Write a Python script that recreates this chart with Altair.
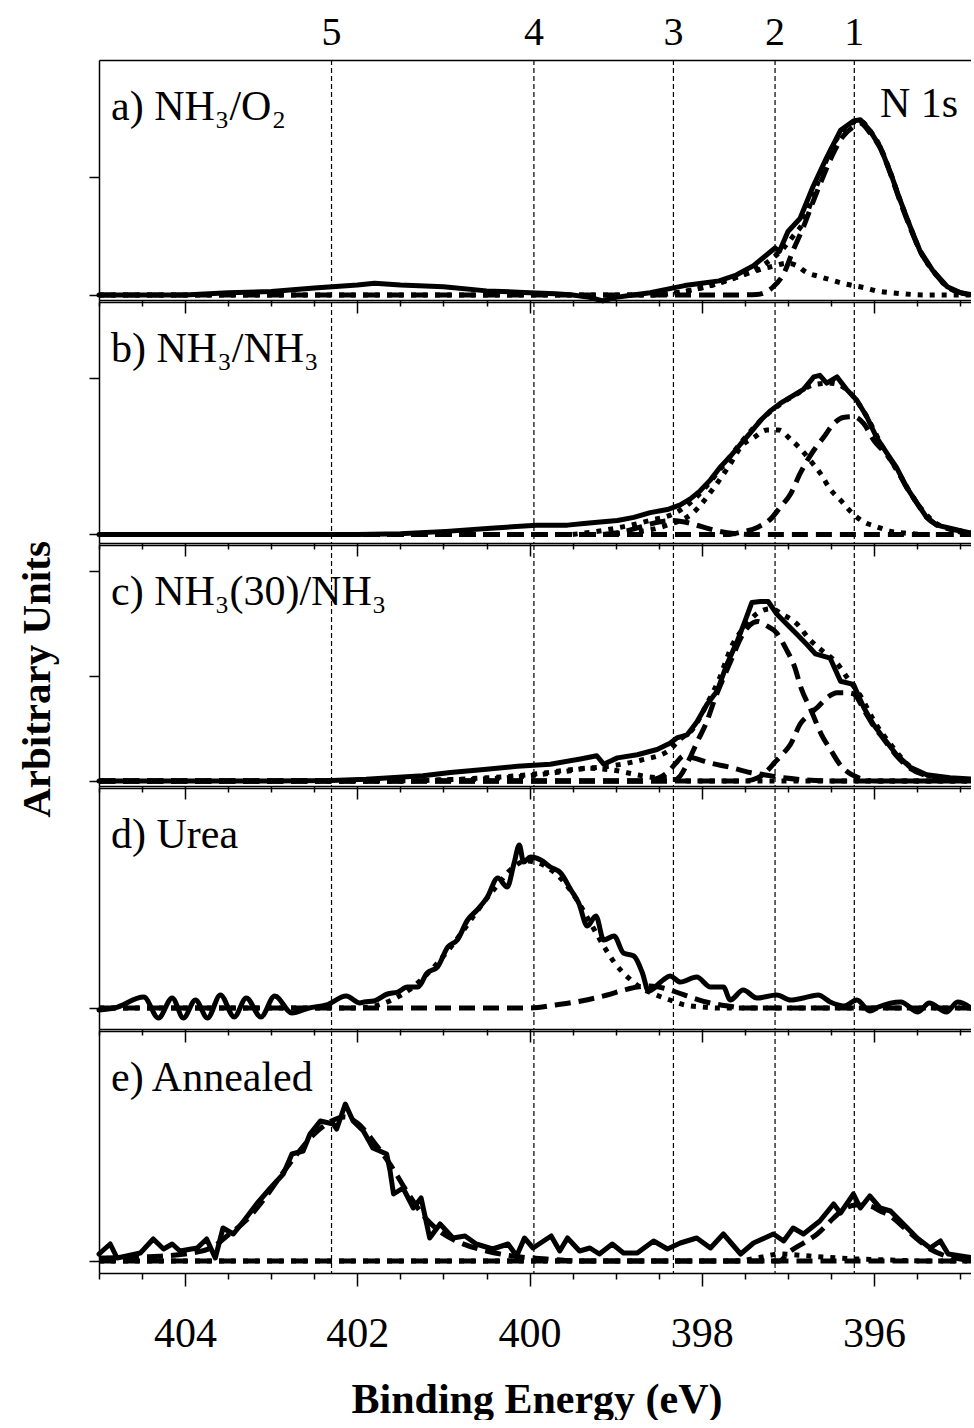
import altair as alt
import pandas as pd

FONT = "Liberation Serif"

# ---------------- axis / annotation values ----------------
X_MIN, X_MAX = 394.84, 405.0
X_TICKS = [405.0, 404.5, 404.0, 403.5, 403.0, 402.5, 402.0, 401.5, 401.0, 400.5, 400.0,
           399.5, 399.0, 398.5, 398.0, 397.5, 397.0, 396.5, 396.0, 395.5, 395.0]
PEAK_POS = [402.3, 399.95, 398.33, 397.15, 396.23]
PEAK_LABELS = ["5", "4", "3", "2", "1"]
PANEL_LABELS = ["a) NH\u2083/O\u2082", "b) NH\u2083/NH\u2083", "c) NH\u2083(30)/NH\u2083",
                "d) Urea", "e) Annealed"]

# ---------------- panel a) NH3/O2 ----------------
A_SOLID_E = [405.0, 404.5, 404.0, 403.5, 403.0, 402.5, 402.0, 401.8, 401.5, 401.0, 400.5, 400.0,
             399.7, 399.5, 399.3, 399.15, 399.0, 398.8, 398.6, 398.4, 398.2, 398.0, 397.8, 397.6,
             397.4, 397.2, 397.15, 397.1, 397.0, 396.86, 396.71, 396.55, 396.39, 396.24, 396.16,
             396.05, 395.93, 395.81, 395.7, 395.58, 395.47, 395.32, 395.15, 395.0, 394.84]
A_SOLID_I = [0, 0, 0, 0.02, 0.03, 0.06, 0.085, 0.10, 0.085, 0.07, 0.035, 0.02,
             0.01, 0, -0.02, -0.05, -0.02, 0, 0.02, 0.05, 0.08, 0.10, 0.12, 0.17,
             0.25, 0.37, 0.40, 0.37, 0.54, 0.65, 0.92, 1.17, 1.40, 1.48, 1.49,
             1.40, 1.26, 1.04, 0.81, 0.58, 0.38, 0.21, 0.07, 0.02, 0]
A_DASH_E = [405.0, 397.6, 397.36, 397.17, 397.05, 396.94, 396.82, 396.70, 396.59, 396.47, 396.36,
            396.24, 396.16, 396.05, 395.93, 395.81, 395.70, 395.58, 395.47, 395.32, 395.15, 395.0, 394.84]
A_DASH_I = [0, 0, 0.005, 0.07, 0.18, 0.38, 0.58, 0.81, 1.01, 1.21, 1.35,
            1.43, 1.46, 1.38, 1.25, 1.03, 0.80, 0.57, 0.38, 0.21, 0.07, 0.02, 0]
A_DOT_E = [405.0, 398.6, 398.2, 397.9, 397.6, 397.4, 397.2, 397.0, 396.9, 396.78, 396.65, 396.51,
           396.37, 396.24, 396.1, 395.97, 395.81, 395.66, 395.4, 394.84]
A_DOT_I = [0, 0, 0.03, 0.08, 0.15, 0.20, 0.24, 0.27, 0.25, 0.19, 0.16, 0.13,
           0.10, 0.08, 0.06, 0.035, 0.02, 0.01, 0, 0]
A_ENV_E = [398.6, 398.2, 397.9, 397.6, 397.4, 397.2, 397.05, 396.94, 396.82, 396.7, 396.59, 396.47,
           396.36, 396.24, 396.16, 396.05, 395.93, 395.81, 395.7, 395.58, 395.47, 395.32, 395.15,
           395.0, 394.84]
A_ENV_I = [0, 0.03, 0.08, 0.15, 0.21, 0.30, 0.40, 0.50, 0.62, 0.86, 1.08, 1.28,
           1.40, 1.47, 1.48, 1.40, 1.26, 1.04, 0.81, 0.58, 0.38, 0.21, 0.07, 0.02, 0]

# ---------------- panel b) NH3/NH3 ----------------
B_SOLID_E = [405.0, 404.0, 403.0, 402.0, 401.5, 400.97, 400.45, 399.92, 399.76, 399.56, 399.37,
             399.18, 398.98, 398.79, 398.60, 398.40, 398.25, 398.13, 398.02, 397.90, 397.79, 397.67,
             397.55, 397.44, 397.32, 397.21, 397.09, 396.97, 396.82, 396.70, 396.63, 396.55, 396.43,
             396.32, 396.20, 396.08, 395.97, 395.85, 395.74, 395.62, 395.50, 395.39, 395.27, 395.12,
             394.96, 394.84]
B_SOLID_I = [0, 0, 0, 0, 0.005, 0.02, 0.04, 0.06, 0.06, 0.06, 0.07,
             0.08, 0.09, 0.11, 0.14, 0.16, 0.19, 0.23, 0.28, 0.35, 0.43, 0.50,
             0.58, 0.65, 0.73, 0.79, 0.84, 0.88, 0.93, 1.01, 1.02, 0.97, 1.01,
             0.93, 0.86, 0.75, 0.62, 0.52, 0.43, 0.30, 0.20, 0.11, 0.06, 0.04,
             0.02, 0.005]
B_DASH1_E = [405.0, 397.7, 397.55, 397.35, 397.2, 397.09, 396.97, 396.86, 396.70, 396.59, 396.47,
             396.36, 396.24, 396.12, 396.0, 395.85, 395.74, 395.62, 395.50, 395.39, 395.27, 395.12,
             394.96, 394.84]
B_DASH1_I = [0, 0, 0.015, 0.047, 0.10, 0.175, 0.26, 0.39, 0.54, 0.62, 0.71,
             0.75, 0.755, 0.71, 0.60, 0.51, 0.42, 0.30, 0.20, 0.11, 0.06, 0.035,
             0.02, 0.005]
B_DASH3_E = [405.0, 399.2, 398.9, 398.7, 398.5, 398.35, 398.2, 398.0, 397.8, 397.6, 397.4, 394.84]
B_DASH3_I = [0, 0, 0.02, 0.05, 0.08, 0.09, 0.08, 0.05, 0.02, 0.005, 0, 0]
B_DOT_E = [405.0, 399.2, 398.9, 398.6, 398.4, 398.10, 397.86, 397.65, 397.55, 397.40, 397.24,
           397.11, 396.97, 396.84, 396.72, 396.61, 396.51, 396.39, 396.26, 396.12, 395.97, 395.81,
           395.66, 395.4, 394.84]
B_DOT_I = [0, 0, 0.01, 0.03, 0.06, 0.14, 0.30, 0.47, 0.56, 0.62, 0.67,
           0.67, 0.61, 0.54, 0.46, 0.38, 0.29, 0.22, 0.14, 0.08, 0.05, 0.02,
           0.01, 0, 0]
B_ENV_E = [399.5, 399.0, 398.6, 398.3, 398.1, 397.9, 397.7, 397.5, 397.3, 397.1, 396.9, 396.7,
           396.5, 396.3, 396.1, 395.9, 395.7, 395.5, 395.3, 395.1, 394.84]
B_ENV_I = [0.0, 0.04, 0.09, 0.14, 0.22, 0.34, 0.48, 0.62, 0.74, 0.83, 0.90, 0.96,
           0.97, 0.92, 0.77, 0.56, 0.38, 0.20, 0.08, 0.03, 0.005]

# ---------------- panel c) NH3(30)/NH3 ----------------
C_SOLID_E = [405.0, 404.0, 403.0, 402.3, 401.9, 401.24, 400.92, 400.53, 400.14, 399.76, 399.41,
             399.22, 399.14, 398.98, 398.75, 398.52, 398.37, 398.29, 398.17, 398.06, 397.94, 397.82,
             397.71, 397.59, 397.50, 397.42, 397.32, 397.23, 397.13, 397.01, 396.90, 396.78, 396.68,
             396.51, 396.39, 396.24, 396.12, 396.01, 395.89, 395.74, 395.58, 395.39, 395.12, 394.84]
C_SOLID_I = [0, 0, 0, 0.005, 0.016, 0.05, 0.08, 0.11, 0.14, 0.16, 0.21,
             0.24, 0.16, 0.22, 0.25, 0.30, 0.36, 0.41, 0.44, 0.56, 0.73, 0.86,
             1.11, 1.33, 1.52, 1.70, 1.71, 1.71, 1.59, 1.49, 1.40, 1.30, 1.21,
             1.17, 0.95, 0.92, 0.70, 0.54, 0.41, 0.25, 0.13, 0.06, 0.03, 0.016]
C_DASH2_E = [405.0, 398.35, 398.25, 398.15, 398.05, 397.95, 397.85, 397.75, 397.65, 397.55, 397.45,
             397.35, 397.25, 397.13, 397.03, 396.92, 396.85, 396.73, 396.61, 396.50, 396.40, 396.30,
             396.18, 396.0, 394.84]
C_DASH2_I = [0, 0, 0.05, 0.20, 0.38, 0.55, 0.78, 0.98, 1.17, 1.36, 1.48,
             1.52, 1.48, 1.41, 1.27, 1.08, 0.89, 0.67, 0.44, 0.29, 0.16, 0.08,
             0.03, 0, 0]
C_DASH1_E = [405.0, 397.5, 397.35, 397.25, 397.15, 397.07, 396.97, 396.86, 396.76, 396.66, 396.55,
             396.43, 396.32, 396.24, 396.12, 396.01, 395.89, 395.74, 395.58, 395.39, 395.12, 394.84]
C_DASH1_I = [0, 0, 0.03, 0.09, 0.18, 0.25, 0.35, 0.54, 0.63, 0.70, 0.79,
             0.84, 0.84, 0.83, 0.68, 0.53, 0.40, 0.24, 0.12, 0.05, 0.02, 0.01]
C_DASH3_E = [405.0, 398.7, 398.5, 398.4, 398.3, 398.21, 398.1, 397.9, 397.67, 397.44, 397.28,
             397.05, 396.8, 396.5, 394.84]
C_DASH3_I = [0, 0, 0.03, 0.08, 0.17, 0.24, 0.22, 0.17, 0.13, 0.08, 0.06, 0.03, 0.01, 0, 0]
C_DOT_E = [405.0, 401.5, 401.0, 400.5, 400.0, 399.6, 399.3, 399.0, 398.7, 398.4, 398.1, 394.84]
C_DOT_I = [0, 0, 0.01, 0.02, 0.05, 0.09, 0.12, 0.10, 0.05, 0.02, 0, 0]
C_ENV_E = [401.5, 400.5, 400.0, 399.5, 399.0, 398.7, 398.4, 398.25, 398.1, 397.95, 397.8, 397.65,
           397.5, 397.35, 397.2, 397.05, 396.9, 396.75, 396.6, 396.45, 396.3, 396.15, 396.0,
           395.8, 395.6, 395.4, 395.1, 394.84]
C_ENV_I = [0, 0.03, 0.06, 0.11, 0.15, 0.20, 0.28, 0.40, 0.50, 0.72, 0.97, 1.29,
           1.47, 1.60, 1.64, 1.58, 1.50, 1.35, 1.24, 1.14, 0.97, 0.80, 0.57,
           0.34, 0.15, 0.06, 0.02, 0.01]

# ---------------- panel d) Urea ----------------
D_SOLID_E = [405.0, 404.82, 404.48, 404.31, 404.15, 404.02, 403.88, 403.74, 403.59, 403.43, 403.29,
             403.12, 402.96, 402.76, 402.56, 402.36, 402.13, 401.97, 401.92, 401.81, 401.65, 401.53,
             401.42, 401.30, 401.19, 401.07, 400.95, 400.84, 400.72, 400.61, 400.49, 400.37, 400.26,
             400.18, 400.12, 400.07, 399.99, 399.87, 399.76, 399.64, 399.52, 399.43, 399.33, 399.23,
             399.14, 399.02, 398.91, 398.79, 398.69, 398.62, 398.45, 398.37, 398.25, 398.06, 397.90,
             397.75, 397.67, 397.52, 397.36, 397.13, 396.97, 396.82, 396.65, 396.51, 396.35, 396.2,
             396.05, 395.95, 395.69, 395.49, 395.36, 395.16, 395.03, 394.84]
D_SOLID_I = [-0.02, 0.0, 0.11, -0.10, 0.10, -0.10, 0.08, -0.10, 0.13, -0.09, 0.10,
             -0.09, 0.12, -0.05, 0.0, 0.03, 0.12, 0.05, 0.06, 0.07, 0.14, 0.16,
             0.21, 0.21, 0.35, 0.41, 0.61, 0.68, 0.88, 0.98, 1.11, 1.30, 1.21,
             1.45, 1.63, 1.46, 1.51, 1.48, 1.41, 1.35, 1.18, 1.05, 0.82, 0.92,
             0.68, 0.72, 0.55, 0.52, 0.35, 0.17, 0.28, 0.32, 0.26, 0.31, 0.21,
             0.21, 0.08, 0.18, 0.10, 0.13, 0.08, 0.10, 0.13, 0.06, 0.02, 0.08,
             -0.03, 0.01, 0.06, -0.04, 0.05, -0.04, 0.06, -0.02]
D_DOT_E = [405.0, 402.0, 401.8, 401.6, 401.4, 401.2, 401.0, 400.8, 400.6, 400.4, 400.2, 400.05,
           399.9, 399.75, 399.6, 399.45, 399.3, 399.14, 399.02, 398.85, 398.7, 398.5, 398.37,
           398.2, 398.0, 397.8, 394.84]
D_DOT_I = [0, 0, 0.02, 0.08, 0.18, 0.33, 0.52, 0.74, 0.98, 1.20, 1.40, 1.47,
           1.45, 1.38, 1.26, 1.08, 0.86, 0.62, 0.46, 0.30, 0.20, 0.12, 0.08,
           0.03, 0.01, 0, 0]
D_DASH_E = [405.0, 400.0, 399.7, 399.4, 399.1, 398.9, 398.75, 398.6, 398.45, 398.3, 398.1, 397.9,
            397.7, 397.5, 394.84]
D_DASH_I = [0, 0, 0.03, 0.07, 0.13, 0.18, 0.21, 0.22, 0.20, 0.16, 0.10, 0.05, 0.02, 0, 0]

# ---------------- panel e) Annealed ----------------
E_SOLID_E = [405.0, 404.87, 404.79, 404.68, 404.52, 404.37, 404.25, 404.15, 404.06, 403.86, 403.75,
             403.65, 403.56, 403.44, 403.32, 403.17, 403.01, 402.86, 402.76, 402.63, 402.55, 402.43,
             402.28, 402.24, 402.14, 402.05, 401.93, 401.82, 401.66, 401.62, 401.58, 401.47, 401.35,
             401.26, 401.16, 401.04, 400.89, 400.75, 400.62, 400.43, 400.25, 400.15, 400.06, 399.96,
             399.75, 399.65, 399.56, 399.42, 399.30, 399.19, 399.04, 398.91, 398.75, 398.56, 398.40,
             398.25, 398.06, 397.90, 397.75, 397.55, 397.40, 397.17, 397.05, 396.94, 396.82, 396.63,
             396.47, 396.39, 396.24, 396.16, 396.05, 395.93, 395.81, 395.66, 395.50, 395.35, 395.23,
             395.14, 394.84]
E_SOLID_I = [0.07, 0.17, 0.03, 0.05, 0.08, 0.22, 0.12, 0.17, 0.10, 0.13, 0.22,
             0.03, 0.33, 0.27, 0.40, 0.57, 0.73, 0.87, 1.07, 1.10, 1.27, 1.40,
             1.37, 1.32, 1.57, 1.40, 1.30, 1.13, 1.07, 0.90, 0.67, 0.73, 0.53,
             0.63, 0.23, 0.37, 0.23, 0.25, 0.17, 0.12, 0.17, 0.05, 0.23, 0.13,
             0.25, 0.10, 0.23, 0.10, 0.13, 0.07, 0.17, 0.08, 0.08, 0.20, 0.12,
             0.18, 0.23, 0.13, 0.27, 0.07, 0.18, 0.27, 0.20, 0.33, 0.27, 0.40,
             0.57, 0.48, 0.67, 0.53, 0.65, 0.53, 0.50, 0.37, 0.23, 0.13, 0.20,
             0.07, 0.03]
E_DASHL_E = [405.0, 404.5, 404.0, 403.7, 403.5, 403.3, 403.1, 402.9, 402.7, 402.5, 402.3, 402.15,
             402.0, 401.8, 401.6, 401.4, 401.2, 401.0, 400.8, 400.5, 400.2, 399.8, 399.4, 394.84]
E_DASHL_I = [0.03, 0.04, 0.07, 0.13, 0.26, 0.40, 0.60, 0.84, 1.07, 1.27, 1.40, 1.44,
             1.38, 1.18, 0.94, 0.66, 0.42, 0.27, 0.18, 0.10, 0.05, 0.02, 0, 0]
E_DASHR_E = [405.0, 397.1, 397.0, 396.8, 396.66, 396.47, 396.35, 396.2, 396.05, 395.93, 395.81,
             395.66, 395.5, 395.35, 395.2, 395.0, 394.84]
E_DASHR_I = [0, 0, 0.08, 0.19, 0.27, 0.43, 0.52, 0.56, 0.55, 0.50, 0.45,
             0.34, 0.22, 0.12, 0.06, 0.02, 0]
E_DOT_E = [405.0, 397.6, 397.3, 397.1, 396.9, 396.6, 396.2, 395.8, 395.4, 394.84]
E_DOT_I = [0, 0, 0.04, 0.07, 0.06, 0.04, 0.02, 0.01, 0, 0]

# ---------------- layout ----------------
WIDTH = 875
PANEL_HEIGHTS = [240, 241, 241, 241, 242]
Y_DOMAINS = [[-0.0425, 1.998], [-0.0545, 1.49], [-0.048, 2.248], [-0.21, 2.20], [-0.12, 2.30]]
Y_TICKS = [[0, 1, 2], [0, 1], [0, 1, 2], [0], [0]]


def frame(E, I, name):
    return pd.DataFrame({"E": E, "I": I, "s": name})


xscale = alt.Scale(domain=[X_MIN, X_MAX], reverse=True, nice=False, zero=False)
TICK_SIZE = {"condition": {"test": "datum.value % 2 === 0", "value": 13}, "value": 6}
peaks_df = pd.DataFrame({"pos": PEAK_POS, "lab": PEAK_LABELS})


def panel(i, solid, dashed, dotted, solid_interp="linear", note=None):
    h = PANEL_HEIGHTS[i]
    yscale = alt.Scale(domain=Y_DOMAINS[i], nice=False, zero=False)
    last = i == 4
    if last:
        x_axis = alt.Axis(orient="bottom", values=X_TICKS, tickSize=TICK_SIZE, grid=False,
                          labels=True, labelOverlap=False, labelFlush=False,
                          labelExpr="datum.value % 2 === 0 ? format(datum.value, 'd') : ''",
                          labelFontSize=42, labelPadding=27,
                          title="Binding Energy (eV)", titleFontSize=42,
                          titleFontWeight="bold", titlePadding=25)
    else:
        x_axis = alt.Axis(orient="bottom", values=X_TICKS, tickSize=TICK_SIZE, grid=False,
                          labels=False, title=None)
    if i == 2:
        y_axis = alt.Axis(values=Y_TICKS[i], labels=False, tickSize=10, grid=False,
                          title="Arbitrary Units", titleFontSize=41, titleFontWeight="bold",
                          titlePadding=30, titleY=134)
    else:
        y_axis = alt.Axis(values=Y_TICKS[i], labels=False, tickSize=10, grid=False, title=None)

    rules = alt.Chart(peaks_df).mark_rule(color="black", strokeWidth=1.2, strokeDash=[5, 3]).encode(
        x=alt.X("pos:Q", scale=xscale,
                axis=alt.Axis(orient="top", ticks=False, labels=False, grid=False, title=None))
    )
    dot_layer = alt.Chart(dotted).mark_line(
        color="black", strokeWidth=5, strokeDash=[5, 7], strokeCap="butt", interpolate="monotone"
    ).encode(
        x=alt.X("E:Q", scale=xscale, axis=None),
        y=alt.Y("I:Q", scale=yscale, axis=y_axis),
        detail="s:N",
    )
    dash_layer = alt.Chart(dashed).mark_line(
        color="black", strokeWidth=5, strokeDash=[16, 8], strokeCap="butt", interpolate="monotone"
    ).encode(
        x=alt.X("E:Q", scale=xscale, axis=None),
        y=alt.Y("I:Q", scale=yscale, axis=y_axis),
        detail="s:N",
    )
    solid_layer = alt.Chart(solid).mark_line(
        color="black", strokeWidth=5, strokeJoin="round", strokeCap="round", interpolate=solid_interp
    ).encode(
        x=alt.X("E:Q", scale=xscale, axis=x_axis),
        y=alt.Y("I:Q", scale=yscale, axis=y_axis),
    )
    label = alt.Chart(pd.DataFrame({"t": [PANEL_LABELS[i]]})).mark_text(
        align="left", baseline="alphabetic", font=FONT, fontSize=42, color="black"
    ).encode(x=alt.value(12), y=alt.value(60), text="t:N")
    layers = [rules, dot_layer, dash_layer, solid_layer, label]
    if i == 0:
        top_txt = alt.Chart(peaks_df).mark_text(
            align="center", baseline="alphabetic", font=FONT, fontSize=40, color="black"
        ).encode(x=alt.X("pos:Q", scale=xscale, axis=None), y=alt.value(-15), text="lab:N")
        layers.append(top_txt)
    if note is not None:
        layers.append(alt.Chart(pd.DataFrame({"t": [note]})).mark_text(
            align="left", baseline="alphabetic", font=FONT, fontSize=42, color="black"
        ).encode(x=alt.value(781), y=alt.value(57), text="t:N"))
    return alt.layer(*layers).resolve_axis(x="independent").properties(width=WIDTH, height=h)


pa = panel(0, frame(A_SOLID_E, A_SOLID_I, "data"),
           pd.concat([frame(A_DASH_E, A_DASH_I, "p1")]),
           pd.concat([frame(A_DOT_E, A_DOT_I, "p2"), frame(A_ENV_E, A_ENV_I, "env")]),
           note="N 1s")
pb = panel(1, frame(B_SOLID_E, B_SOLID_I, "data"),
           pd.concat([frame(B_DASH1_E, B_DASH1_I, "p1"), frame(B_DASH3_E, B_DASH3_I, "p3")]),
           pd.concat([frame(B_DOT_E, B_DOT_I, "p2"), frame(B_ENV_E, B_ENV_I, "env")]))
pc = panel(2, frame(C_SOLID_E, C_SOLID_I, "data"),
           pd.concat([frame(C_DASH2_E, C_DASH2_I, "p2"), frame(C_DASH1_E, C_DASH1_I, "p1"),
                      frame(C_DASH3_E, C_DASH3_I, "p3")]),
           pd.concat([frame(C_DOT_E, C_DOT_I, "p4"), frame(C_ENV_E, C_ENV_I, "env")]))
pd_ = panel(3, frame(D_SOLID_E, D_SOLID_I, "data"),
            frame(D_DASH_E, D_DASH_I, "p3"),
            frame(D_DOT_E, D_DOT_I, "p4"), solid_interp="monotone")
pe = panel(4, frame(E_SOLID_E, E_SOLID_I, "data"),
           pd.concat([frame(E_DASHL_E, E_DASHL_I, "p5"), frame(E_DASHR_E, E_DASHR_I, "p1")]),
           frame(E_DOT_E, E_DOT_I, "p2"))

chart = alt.vconcat(pa, pb, pc, pd_, pe, spacing=2, bounds="flush").properties(
    padding={"left": 16, "top": 13, "right": -13, "bottom": 0},
    background="white",
).configure_view(stroke=None).configure_axis(
    domainColor="black", domainWidth=1.5, tickColor="black", tickWidth=1.5,
    labelFont=FONT, titleFont=FONT, labelColor="black", titleColor="black",
)

chart.save("out.html", embed_options={"renderer": "svg", "actions": False})
